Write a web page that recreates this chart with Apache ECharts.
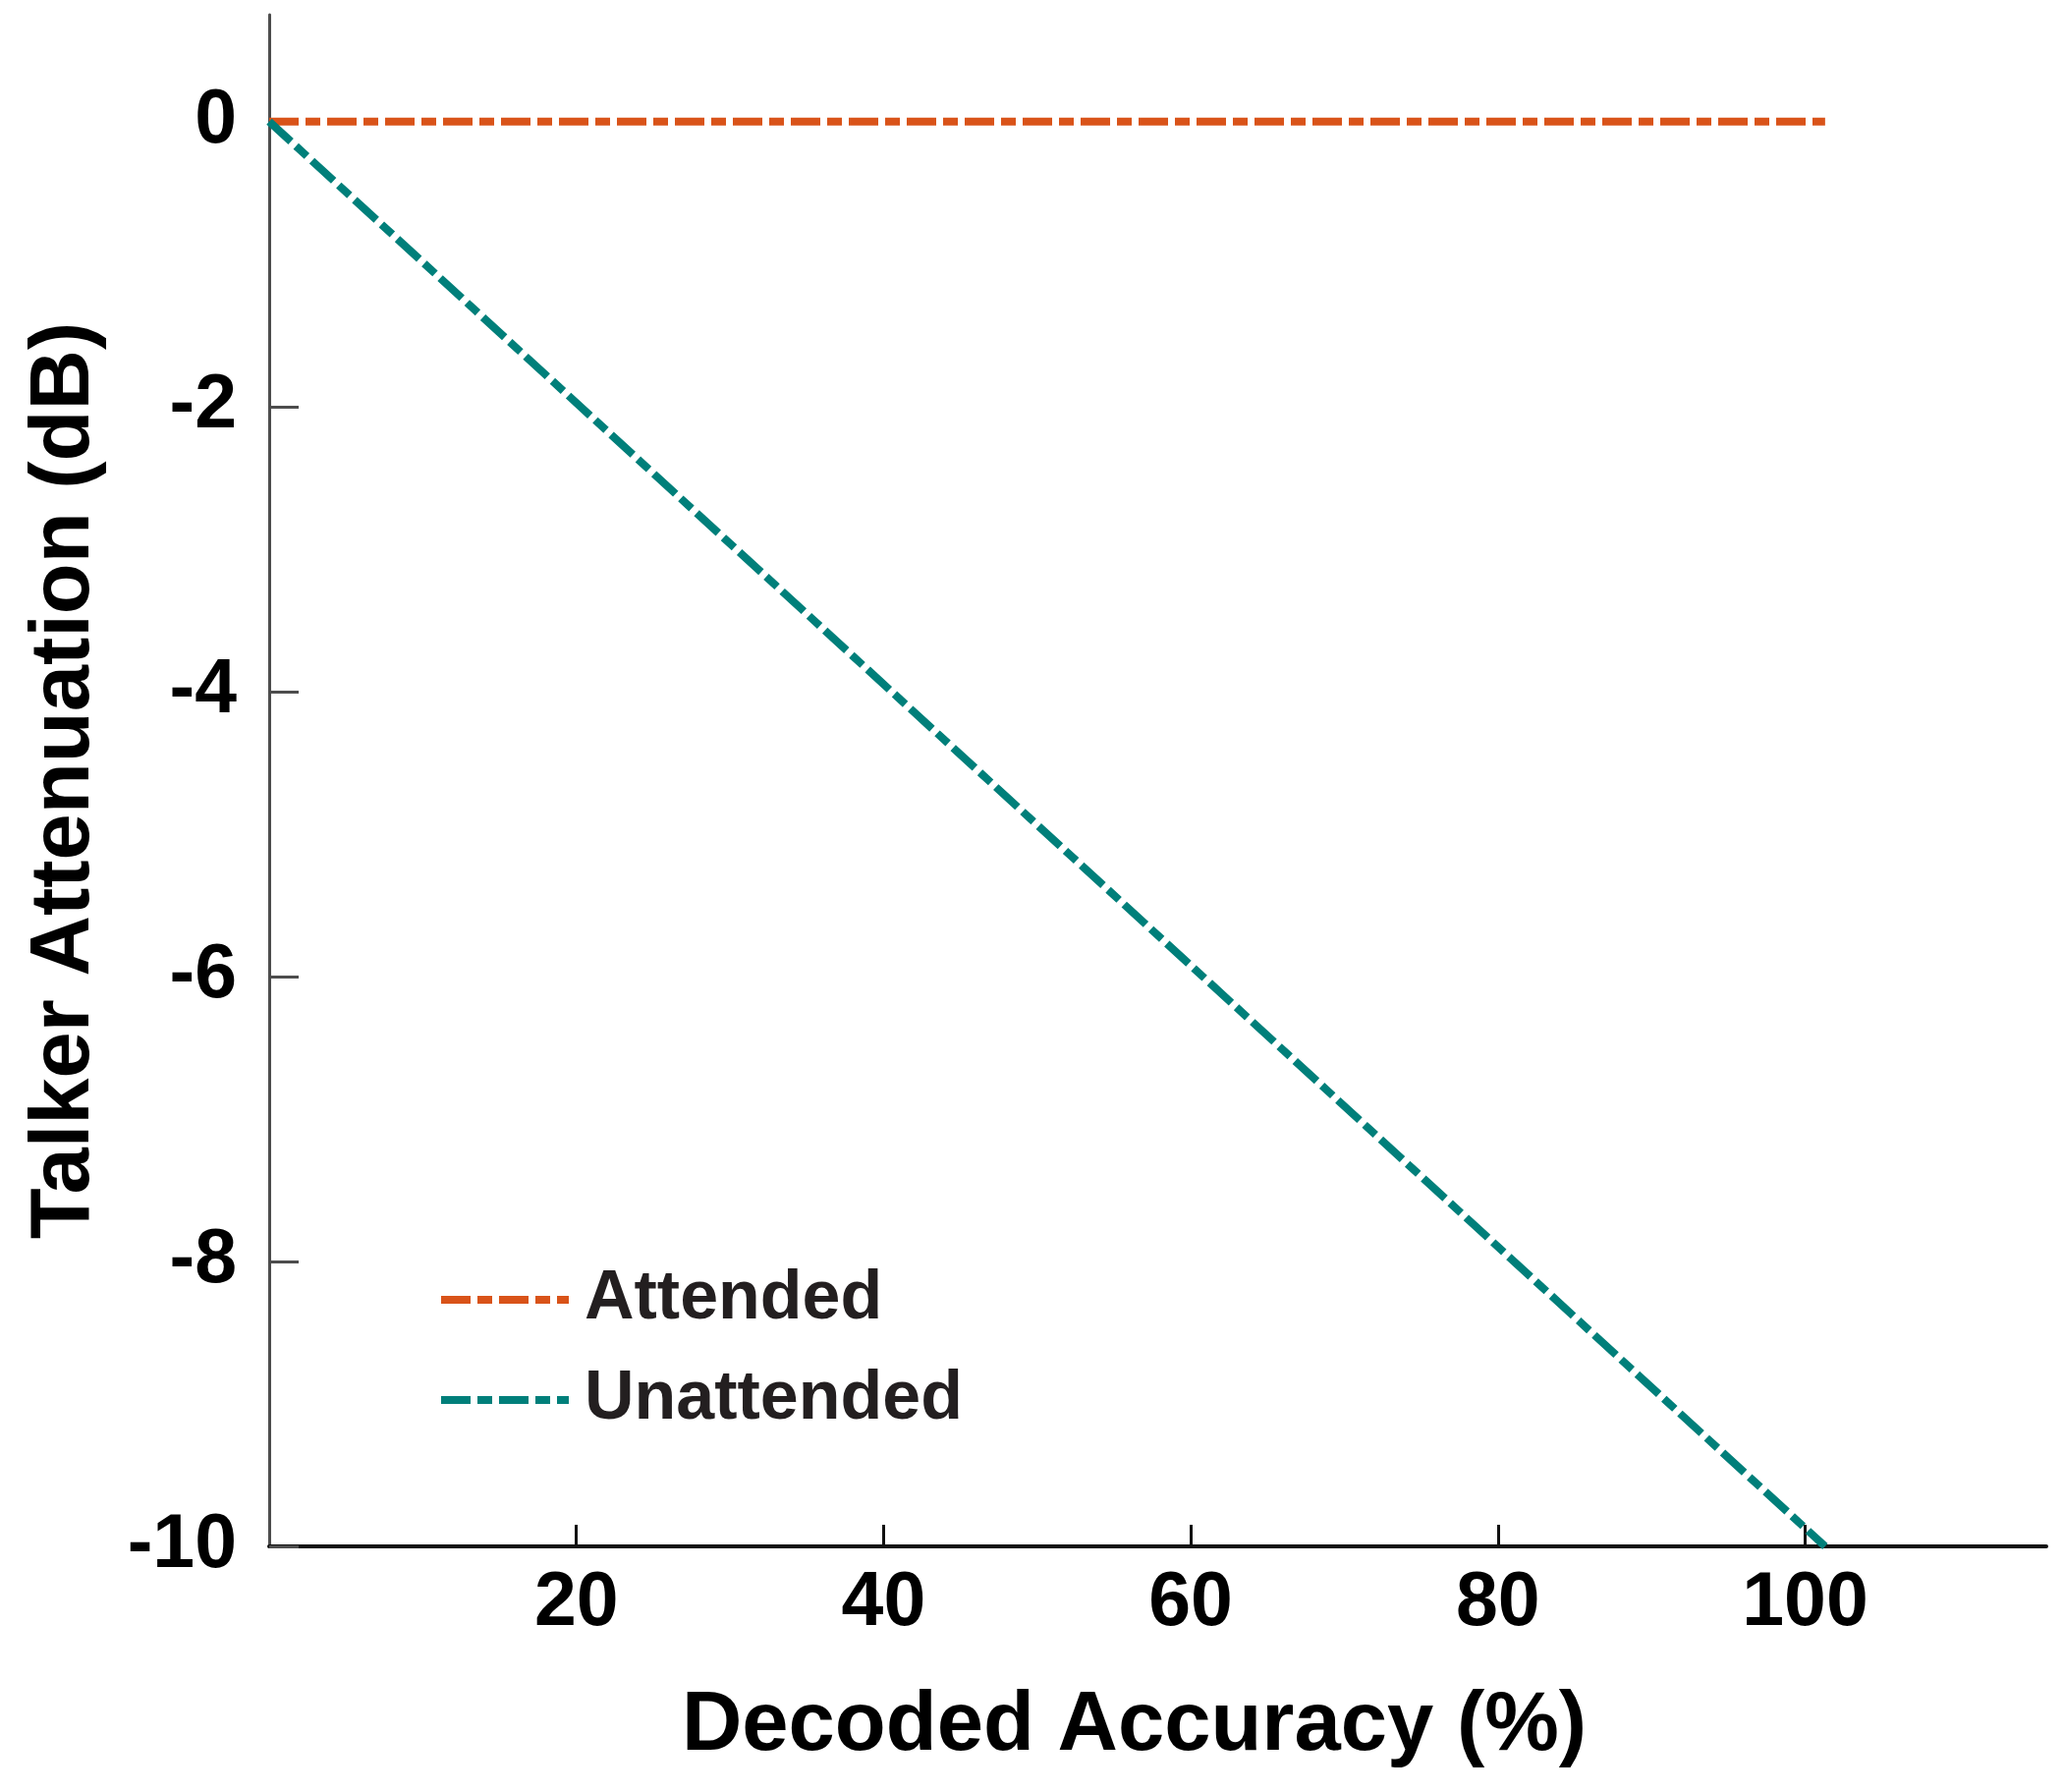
<!DOCTYPE html>
<html>
<head>
<meta charset="utf-8">
<script src="https://cdn.jsdelivr.net/npm/echarts@6/dist/echarts.min.js"></script>
<style>
  html, body { margin: 0; padding: 0; background: #fff; }
  #chart { width: 2100px; height: 1824px; }
</style>
</head>
<body>
<div id="chart"></div>
<script>
// decoded accuracy (%) at the two ends of each line
const accuracy = [0, 101.3];
const attended = [0, 0];
const unattended = [0, -10];
const xTicks = [20, 40, 60, 80, 100];
const yTicks = [-10, -8, -6, -4, -2, 0];

const chart = echarts.init(document.getElementById('chart'));

const font = '"Liberation Sans", Arial, Helvetica, sans-serif';
const dash = [30, 7, 15, 7];

const option = {
    backgroundColor: '#fff',
    animation: false,
    grid: {
        left: 274,
        right: 17,
        top: 15,
        bottom: 250
    },
    legend: {
        orient: 'vertical',
        left: 440,
        top: 1283,
        itemWidth: 130,
        itemHeight: 70,
        itemGap: 32,
        itemStyle: { opacity: 0 },
        lineStyle: { width: 8, type: dash, cap: 'butt' },
        textStyle: {
            fontFamily: font,
            fontWeight: 'bold',
            fontSize: 70,
            color: '#231f20',
            padding: [0, 0, 0, 11]
        },
        data: ['Attended', 'Unattended']
    },
    xAxis: {
        type: 'value',
        min: 0,
        max: 115.7,
        name: 'Decoded Accuracy (%)',
        nameLocation: 'middle',
        nameGap: 141,
        nameTextStyle: {
            fontFamily: font,
            fontWeight: 'bold',
            fontSize: 85,
            color: '#000',
            padding: [0, 48, 0, 0]
        },
        axisLine: { onZero: false, lineStyle: { color: '#111', width: 4 } },
        axisTick: {
            inside: true,
            length: 22,
            lineStyle: { color: '#111', width: 3 },
            customValues: xTicks
        },
        axisLabel: {
            margin: 20,
            fontFamily: font,
            fontWeight: 'bold',
            fontSize: 77,
            color: '#000',
            customValues: xTicks
        },
        splitLine: { show: false }
    },
    yAxis: {
        type: 'value',
        min: -10,
        max: 0.75,
        name: 'Talker Attenuation (dB)',
        nameLocation: 'middle',
        nameGap: 165,
        nameTextStyle: {
            fontFamily: font,
            fontWeight: 'bold',
            fontSize: 85,
            color: '#000'
        },
        axisLine: { onZero: false, lineStyle: { color: '#4d4d4d', width: 3 } },
        axisTick: {
            inside: true,
            length: 30,
            lineStyle: { color: '#4d4d4d', width: 3 },
            customValues: yTicks
        },
        axisLabel: {
            margin: 33,
            fontFamily: font,
            fontWeight: 'bold',
            fontSize: 77,
            color: '#000',
            customValues: yTicks
        },
        splitLine: { show: false }
    },
    series: [
        {
            name: 'Attended',
            type: 'line',
            symbol: 'none',
            data: accuracy.map((x, i) => [x, attended[i]]),
            lineStyle: { color: '#D95319', width: 8, type: dash, cap: 'butt' },
            itemStyle: { color: '#D95319' }
        },
        {
            name: 'Unattended',
            type: 'line',
            symbol: 'none',
            data: accuracy.map((x, i) => [x, unattended[i]]),
            lineStyle: { color: '#007F7A', width: 8, type: dash, cap: 'butt' },
            itemStyle: { color: '#007F7A' }
        }
    ]
};

chart.setOption(option);
</script>
</body>
</html>
